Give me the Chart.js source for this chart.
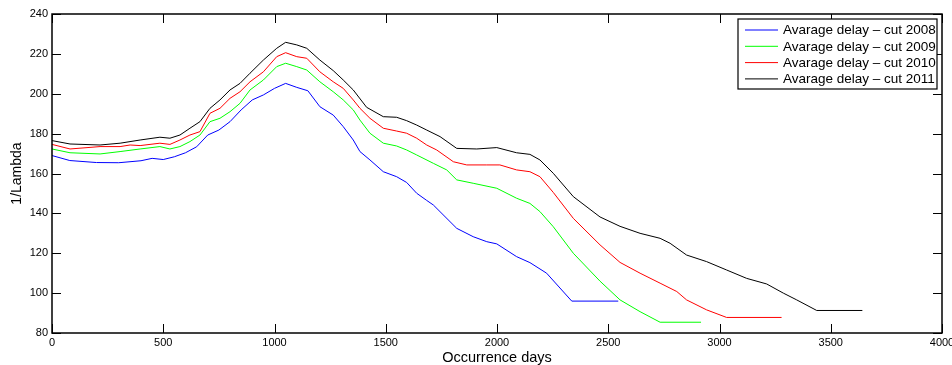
<html>
<head>
    <title>Avarage delay</title>
    <script src="https://cdn.jsdelivr.net/npm/chart.js"></script>
    <style>
        body { margin: 0; background: white; }
        #wrap { width: 952px; height: 365px; position: relative; }
    </style>
</head>
<body>
    <div id="wrap"><canvas id="delayChart"></canvas></div>
    <script>
        // values
        const days2008 = [0, 80, 200, 300, 400, 450, 500, 550, 600, 650, 700, 750, 800, 850, 900, 950, 1000, 1050, 1100, 1150, 1204, 1264, 1309, 1354, 1384, 1429, 1489, 1549, 1594, 1639, 1684, 1714, 1819, 1893, 1954, 1999, 2088, 2148, 2223, 2336, 2545];
        const delay2008 = [169, 166.5, 165.5, 165.4, 166.4, 167.6, 167, 168.4, 170.4, 173.4, 179.3, 181.8, 186, 191.9, 196.9, 199.4, 202.7, 205.2, 203.2, 201.5, 193.5, 189.3, 183.5, 176.8, 171, 166.8, 160.9, 158.4, 155.5, 150.1, 146.5, 144.2, 132.5, 128.3, 125.8, 124.7, 118.3, 115.3, 110, 96, 96];

        const days2009 = [0, 81, 216, 306, 396, 485, 530, 575, 620, 665, 710, 755, 800, 845, 890, 950, 1010, 1050, 1100, 1145, 1204, 1264, 1309, 1354, 1384, 1429, 1489, 1549, 1594, 1639, 1714, 1774, 1819, 1893, 1999, 2088, 2148, 2193, 2253, 2343, 2463, 2553, 2643, 2733, 2917];
        const delay2009 = [172.3, 170.4, 169.8, 171, 172.3, 173.5, 172.3, 173.5, 176, 179.3, 186, 187.7, 191, 195.2, 201.9, 206.9, 213.6, 215.3, 213.6, 211.9, 206, 201, 196.9, 191.9, 186.8, 180.2, 175.2, 173.8, 171.8, 169.3, 165.1, 161.8, 156.8, 155.1, 152.6, 147.6, 145, 140.9, 133.3, 120, 106, 96.6, 90.7, 85.4, 85.4];

        const days2010 = [0, 81, 216, 306, 351, 396, 485, 530, 575, 620, 665, 710, 755, 800, 845, 890, 950, 1010, 1050, 1100, 1145, 1204, 1264, 1309, 1354, 1384, 1429, 1489, 1549, 1594, 1639, 1684, 1729, 1804, 1864, 1954, 2013, 2088, 2148, 2193, 2253, 2343, 2463, 2553, 2643, 2733, 2808, 2852, 2942, 3032, 3279];
        const delay2010 = [174.6, 172.3, 173.5, 173.5, 174.3, 174, 175.2, 174.6, 176.8, 179.3, 181, 190.2, 192.7, 197.7, 201, 206, 211, 218.6, 220.6, 218.6, 217.8, 211, 206, 202.7, 196.9, 192.7, 187.7, 182.7, 181.3, 180.2, 177.7, 174.3, 171.8, 165.9, 164.3, 164.3, 164.3, 161.8, 160.9, 158.4, 150.5, 137.5, 124.2, 115.4, 110, 105, 100.8, 96.6, 91.6, 87.8, 87.8];

        const days2011 = [0, 81, 216, 306, 396, 485, 530, 575, 620, 665, 710, 755, 800, 845, 890, 950, 1010, 1050, 1100, 1145, 1204, 1264, 1309, 1354, 1414, 1489, 1549, 1594, 1639, 1684, 1744, 1819, 1909, 1999, 2088, 2148, 2193, 2253, 2343, 2463, 2553, 2643, 2733, 2778, 2852, 2942, 3032, 3122, 3212, 3287, 3347, 3437, 3642];
        const delay2011 = [176.5, 174.8, 174.3, 175.2, 176.8, 178.2, 177.7, 179.3, 182.7, 186, 192.7, 196.9, 201.9, 205.2, 210.3, 216.9, 222.8, 225.8, 224.5, 222.8, 216.9, 211.6, 206.9, 201.9, 193.2, 188.5, 188.2, 186.5, 184.3, 181.8, 178.5, 172.6, 172.3, 173, 170.4, 169.6, 166.8, 160.1, 148.4, 138.2, 133.5, 130, 127.5, 125, 119.1, 115.8, 111.6, 107.4, 104.6, 100, 96.6, 91.3, 91.3];

        const seriesLabels = ['Avarage delay \u2013 cut 2008', 'Avarage delay \u2013 cut 2009', 'Avarage delay \u2013 cut 2010', 'Avarage delay \u2013 cut 2011'];
        const seriesColors = ['#0000ff', '#00ff00', '#ff0000', '#000000'];
        const xTicks = [0, 500, 1000, 1500, 2000, 2500, 3000, 3500, 4000];
        const yTicks = [80, 100, 120, 140, 160, 180, 200, 220, 240];

        const FONT = "'Liberation Sans', Arial, sans-serif";

        function pts(xs, ys) {
            return xs.map((x, i) => ({ x: x, y: ys[i] }));
        }

        // matlab style box, inward ticks on all four sides, and legend box
        const matlabAxes = {
            id: 'matlabAxes',
            afterDraw(chart) {
                const ctx = chart.ctx;
                const a = chart.chartArea;
                const xs = chart.scales.x, ys = chart.scales.y;
                const tl = 9;
                ctx.save();
                ctx.strokeStyle = '#000';
                ctx.lineWidth = 1;
                ctx.beginPath();
                xTicks.forEach(v => {
                    const px = Math.round(xs.getPixelForValue(v)) + 0.5;
                    ctx.moveTo(px, a.bottom); ctx.lineTo(px, a.bottom - tl);
                    ctx.moveTo(px, a.top); ctx.lineTo(px, a.top + tl);
                });
                yTicks.forEach(v => {
                    const py = Math.round(ys.getPixelForValue(v)) + 0.5;
                    ctx.moveTo(a.left, py); ctx.lineTo(a.left + tl, py);
                    ctx.moveTo(a.right, py); ctx.lineTo(a.right - tl, py);
                });
                ctx.stroke();
                ctx.lineWidth = 1.5;
                ctx.strokeRect(a.left, a.top, a.right - a.left, a.bottom - a.top);

                // legend
                const bw = 199, bh = 70;
                const bx = a.right - 5 - bw, by = a.top + 5;
                ctx.fillStyle = '#fff';
                ctx.fillRect(bx, by, bw, bh);
                ctx.lineWidth = 1.2;
                ctx.strokeRect(bx, by, bw, bh);
                ctx.font = '13.5px ' + FONT;
                ctx.textBaseline = 'middle';
                ctx.textAlign = 'left';
                chart.data.datasets.forEach((ds, i) => {
                    const ly = by + 11 + i * 16.3;
                    ctx.strokeStyle = ds.borderColor;
                    ctx.lineWidth = 1;
                    ctx.beginPath();
                    ctx.moveTo(bx + 7, ly); ctx.lineTo(bx + 40, ly);
                    ctx.stroke();
                    ctx.fillStyle = '#000';
                    ctx.fillText(ds.label, bx + 45, ly + 0.5);
                });
                ctx.restore();
            }
        };

        const ctx = document.getElementById('delayChart').getContext('2d');
        const delayChart = new Chart(ctx, {
            type: 'line',
            data: {
                datasets: [
                    { label: seriesLabels[0], data: pts(days2008, delay2008), borderColor: seriesColors[0] },
                    { label: seriesLabels[1], data: pts(days2009, delay2009), borderColor: seriesColors[1] },
                    { label: seriesLabels[2], data: pts(days2010, delay2010), borderColor: seriesColors[2] },
                    { label: seriesLabels[3], data: pts(days2011, delay2011), borderColor: seriesColors[3] }
                ]
            },
            options: {
                responsive: true,
                maintainAspectRatio: false,
                animation: false,
                elements: {
                    line: { borderWidth: 1, tension: 0 },
                    point: { radius: 0 }
                },
                layout: { padding: { left: 0, top: 14, right: 10, bottom: 0 } },
                plugins: {
                    legend: { display: false },
                    tooltip: { enabled: false }
                },
                scales: {
                    x: {
                        type: 'linear',
                        min: 0,
                        max: 4000,
                        afterBuildTicks(scale) { scale.ticks = xTicks.map(v => ({ value: v })); },
                        afterFit(scale) { scale.height = 32; scale.paddingLeft = 0; scale.paddingRight = 0; },
                        grid: { display: false, drawTicks: false },
                        border: { display: false },
                        ticks: { color: '#000', padding: 3, maxRotation: 0, callback: v => String(v), font: { family: FONT, size: 11 } },
                        title: { display: true, text: 'Occurrence days', color: '#000', padding: { top: 0, bottom: -2 }, font: { family: FONT, size: 14.5 } }
                    },
                    y: {
                        min: 80,
                        max: 240,
                        afterBuildTicks(scale) { scale.ticks = yTicks.map(v => ({ value: v })); },
                        afterFit(scale) { scale.width = 52; scale.paddingTop = 0; scale.paddingBottom = 0; },
                        grid: { display: false, drawTicks: false },
                        border: { display: false },
                        ticks: { color: '#000', padding: 4, callback: v => String(v), font: { family: FONT, size: 11 } },
                        title: { display: true, text: '1/Lambda', color: '#000', padding: { top: 9, bottom: 0 }, font: { family: FONT, size: 14 } }
                    }
                }
            },
            plugins: [matlabAxes]
        });
    </script>
</body>
</html>
